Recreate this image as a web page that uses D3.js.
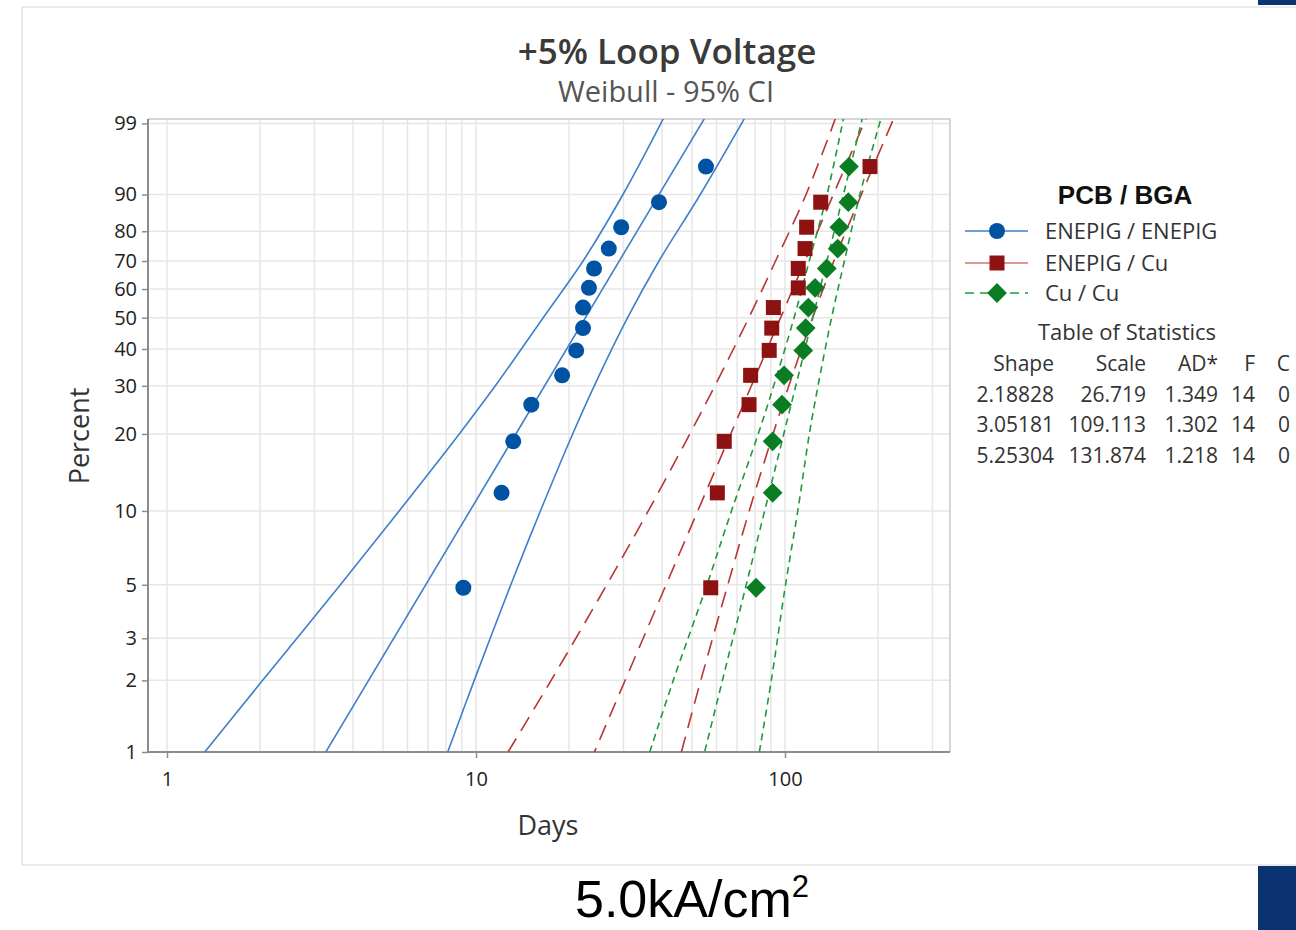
<!DOCTYPE html>
<html>
<head>
<meta charset="utf-8">
<script src="https://cdn.jsdelivr.net/npm/d3@7"></script>
<style>
  body { margin: 0; background: #fff; }
  svg { display: block; font-family: "Open Sans", sans-serif; }
</style>
</head>
<body>
<div id="chart"></div>
<script>
// axis ticks
var pctTicks = [1, 2, 3, 5, 10, 20, 30, 40, 50, 60, 70, 80, 90, 99];
var dayTicks = [1, 10, 100];
var dayGrid = [1, 2, 3, 4, 5, 6, 7, 8, 9, 10, 20, 30, 40, 50, 60, 70, 80, 90, 100, 200, 300];

// plotting positions (median ranks, n = 14)
var plotPct = [4.86, 11.81, 18.75, 25.69, 32.64, 39.58, 46.53, 53.47, 60.42, 67.36, 74.31, 81.25, 88.19, 95.14];

// failure times (days)
var enepigDays = [9.1, 12.1, 13.2, 15.1, 19, 21.1, 22.2, 22.2, 23.2, 24.1, 26.9, 29.5, 39.1, 55.5];
var enepigCuDays = [57.5, 60.4, 63.6, 76.5, 77.4, 88.9, 90.6, 91.7, 110.4, 110.4, 116.1, 117.5, 130.5, 188.4];
var cuCuDays = [80.6, 91.2, 91.2, 97.8, 99.3, 114.6, 116.7, 119, 125.1, 136.5, 148.1, 149.9, 160.3, 161.1];

// fitted Weibull parameters (table of statistics)
var seriesNames = ["ENEPIG / ENEPIG", "ENEPIG / Cu", "Cu / Cu"];
var shapeVals = [2.18828, 3.05181, 5.25304];
var scaleVals = [26.719, 109.113, 131.874];
var shapeText = ["2.18828", "3.05181", "5.25304"];
var scaleText = ["26.719", "109.113", "131.874"];
var adText = ["1.349", "1.302", "1.218"];
var fText = ["14", "14", "14"];
var cText = ["0", "0", "0"];

// 95% CI bands: days at each percent level
var bandPct = [1, 2, 5, 10, 20, 30, 50, 70, 90, 99.2];
var enepigLo = [1.325, 2.04, 3.64, 5.64, 8.83, 11.55, 16.5, 22.2, 29.9, 40.4];
var enepigHi = [8.1, 9.87, 12.96, 16.16, 20.55, 24.14, 30.95, 39.1, 53.2, 73.9];
var enepigCuLo = [12.7, 17.5, 26.5, 36.1, 49.2, 59.3, 76.4, 93.2, 117, 145.6];
var enepigCuHi = [46.2, 53.4, 65.3, 76.6, 91.5, 102.9, 122.9, 143.9, 176.7, 224.8];
var cuCuLo = [36.5, 43.5, 55.9, 67.1, 81.9, 91.9, 107, 119.8, 136.8, 154.6];
var cuCuHi = [82.6, 90.3, 100.4, 110, 119.9, 127.9, 141.5, 155.7, 174.7, 204.5];

var W = 1296, H = 930;
var pLeft = 148, pRight = 950, pTop = 119, pBottom = 752;

var svg = d3.select("#chart").append("svg")
    .attr("width", W)
    .attr("height", H);

// panel frame and corner blocks
svg.append("rect").attr("x", 22).attr("y", 7).attr("width", 1300).attr("height", 858)
    .attr("fill", "#fff").attr("stroke", "#e3e3e3").attr("stroke-width", 1.5);
svg.append("rect").attr("x", 1258).attr("y", 0).attr("width", 38).attr("height", 5).attr("fill", "#0b3372");
svg.append("rect").attr("x", 1258).attr("y", 866).attr("width", 38).attr("height", 64).attr("fill", "#0b3372");

// weibull probability transform
function wq(p) { return Math.log(-Math.log(1 - p / 100)); }

var x = d3.scaleLog().domain([1, 100]).range([167, 785]);
var y = d3.scaleLinear().domain([wq(1), wq(99)]).range([pBottom, 123.4]);

// grid
var g = svg.append("g");
g.selectAll(".vgrid").data(dayGrid).enter().append("line")
    .attr("x1", d => x(d)).attr("x2", d => x(d))
    .attr("y1", pTop).attr("y2", pBottom)
    .attr("stroke", "#e6e6e6").attr("stroke-width", 1.5);
g.selectAll(".hgrid").data(pctTicks.slice(1)).enter().append("line")
    .attr("x1", pLeft).attr("x2", pRight)
    .attr("y1", d => y(wq(d))).attr("y2", d => y(wq(d)))
    .attr("stroke", "#e6e6e6").attr("stroke-width", 1.5);

// frame
svg.append("path")
    .attr("d", `M${pLeft},${pTop}H${pRight}V${pBottom}`)
    .attr("fill", "none").attr("stroke", "#c9c9c9").attr("stroke-width", 1.5);

// axes
var yAxis = d3.axisLeft(y)
    .tickValues(pctTicks.map(wq))
    .tickFormat((d, i) => pctTicks[i])
    .tickSize(6).tickPadding(5);
var xAxis = d3.axisBottom(x)
    .tickValues(dayTicks)
    .tickFormat(d3.format("d"))
    .tickSize(6).tickPadding(14);

var ya = svg.append("g").attr("transform", `translate(${pLeft},0)`).call(yAxis);
var xa = svg.append("g").attr("transform", `translate(0,${pBottom})`).call(xAxis);
ya.select(".domain").attr("d", `M0,${pTop}V${pBottom}`);
xa.select(".domain").attr("d", `M${pLeft},0H${pRight}`);
[ya, xa].forEach(a => {
    a.select(".domain").attr("stroke", "#8c8c8c").attr("stroke-width", 2);
    a.selectAll(".tick line").attr("stroke", "#8c8c8c").attr("stroke-width", 1.5);
    a.selectAll(".tick text").attr("fill", "#222").style("font-size", "20px")
        .style("font-family", "'Open Sans', sans-serif");
});

// clip for plotted lines
svg.append("defs").append("clipPath").attr("id", "clip").append("rect")
    .attr("x", pLeft).attr("y", pTop).attr("width", pRight - pLeft).attr("height", pBottom - pTop);

var series = [
    { days: enepigDays, lo: enepigLo, hi: enepigHi, line: "#3f7fca", mark: "#0052a3", dash: null, sym: "circle" },
    { days: enepigCuDays, lo: enepigCuLo, hi: enepigCuHi, line: "#b73636", mark: "#8e1212", dash: "16,9", sym: "square" },
    { days: cuCuDays, lo: cuCuLo, hi: cuCuHi, line: "#1f9a3a", mark: "#0a7d22", dash: "7,5", sym: "diamond" }
];

var plot = svg.append("g").attr("clip-path", "url(#clip)");
var band = d3.line().x(d => x(d[1])).y(d => y(wq(d[0]))).curve(d3.curveCatmullRom);

series.forEach(function (s, i) {
    var fit = [0.9, 99.5].map(p => [p, scaleVals[i] * Math.pow(-Math.log(1 - p / 100), 1 / shapeVals[i])]);
    [fit, bandPct.map((p, j) => [p, s.lo[j]]), bandPct.map((p, j) => [p, s.hi[j]])].forEach(function (pts) {
        plot.append("path")
            .attr("d", band(pts))
            .attr("fill", "none")
            .attr("stroke", s.line)
            .attr("stroke-width", 1.6)
            .attr("stroke-dasharray", s.dash);
    });
});

function marker(sel, s) {
    if (s.sym === "circle") {
        sel.append("circle").attr("r", 8).attr("fill", s.mark);
    } else if (s.sym === "square") {
        sel.append("rect").attr("x", -7.5).attr("y", -7.5).attr("width", 15).attr("height", 15).attr("fill", s.mark);
    } else {
        sel.append("rect").attr("x", -7).attr("y", -7).attr("width", 14).attr("height", 14)
            .attr("transform", "rotate(45)").attr("fill", s.mark);
    }
}

series.forEach(function (s) {
    svg.append("g").selectAll("g").data(s.days).enter().append("g")
        .attr("transform", (d, j) => `translate(${x(d)},${y(wq(plotPct[j]))})`)
        .each(function () { marker(d3.select(this), s); });
});

// titles
svg.append("text").attr("x", 667).attr("y", 64).attr("text-anchor", "middle")
    .attr("fill", "#3a3a3a").style("font-size", "35px").style("font-weight", 600)
    .text("+5% Loop Voltage");
svg.append("text").attr("x", 666).attr("y", 102).attr("text-anchor", "middle")
    .attr("fill", "#555").style("font-size", "29px")
    .text("Weibull - 95% CI");
svg.append("text").attr("transform", "translate(89,436) rotate(-90)").attr("text-anchor", "middle")
    .attr("fill", "#333").style("font-size", "27px").text("Percent");
svg.append("text").attr("x", 548).attr("y", 835).attr("text-anchor", "middle")
    .attr("fill", "#333").style("font-size", "27px").text("Days");

// legend
svg.append("text").attr("x", 1125).attr("y", 204).attr("text-anchor", "middle")
    .attr("fill", "#111").style("font-family", "'Liberation Sans', Arial, sans-serif")
    .style("font-size", "26px").style("font-weight", "bold").text("PCB / BGA");

var legY = [231, 263, 293];
var legLine = ["#3f7fca", "#d07474", "#1f9a3a"];
series.forEach(function (s, i) {
    var lg = svg.append("g");
    lg.append("line").attr("x1", 965).attr("x2", 1028).attr("y1", legY[i]).attr("y2", legY[i])
        .attr("stroke", legLine[i]).attr("stroke-width", 1.6).attr("stroke-dasharray", i === 2 ? "9,6" : null);
    marker(lg.append("g").attr("transform", `translate(997,${legY[i]})`), s);
    lg.append("text").attr("x", 1045).attr("y", legY[i] + 8).attr("fill", "#333")
        .style("font-size", "22px").text(seriesNames[i]);
});

// table of statistics
svg.append("text").attr("x", 1127).attr("y", 340).attr("text-anchor", "middle")
    .attr("fill", "#333").style("font-size", "22px").text("Table of Statistics");
var colX = [1054, 1146, 1218, 1255, 1290];
var header = ["Shape", "Scale", "AD*", "F", "C"];
var rows = [header].concat(shapeText.map((d, i) => [d, scaleText[i], adText[i], fText[i], cText[i]]));
var rowY = [371, 402, 432, 463];
rows.forEach(function (r, ri) {
    r.forEach(function (v, ci) {
        svg.append("text").attr("x", colX[ci]).attr("y", rowY[ri]).attr("text-anchor", "end")
            .attr("fill", "#333").style("font-size", "21px").text(v);
    });
});

// caption
var cap = svg.append("text").attr("x", 692).attr("y", 917).attr("text-anchor", "middle")
    .attr("fill", "#000").style("font-family", "'Liberation Sans', Arial, sans-serif").style("font-size", "52px");
cap.append("tspan").text("5.0kA/cm");
cap.append("tspan").attr("dy", -20).style("font-size", "31px").text("2");
</script>
</body>
</html>
